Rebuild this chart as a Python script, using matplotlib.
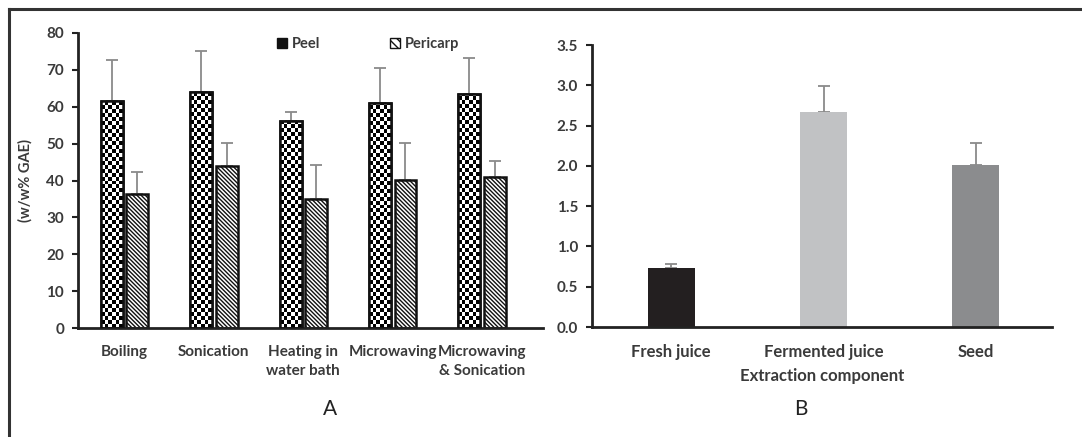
import numpy as np
import matplotlib
matplotlib.use("Agg")
import matplotlib.pyplot as plt
from matplotlib.lines import Line2D
from matplotlib.patches import Patch, Rectangle

plt.rcParams['font.family'] = ['Lato', 'DejaVu Sans']
plt.rcParams['hatch.linewidth'] = 1.0

# Panel A data
methods = ["Boiling", "Sonication", "Heating in\nwater bath", "Microwaving", "Microwaving\n& Sonication"]
peel = [61.5, 64.0, 56.0, 61.0, 63.5]
peel_err = [11.3, 11.2, 2.7, 9.5, 9.7]
pericarp = [36.3, 43.9, 35.0, 40.1, 40.9]
pericarp_err = [6.0, 6.2, 9.3, 10.0, 4.3]
yticks_a = [0, 10, 20, 30, 40, 50, 60, 70, 80]

# Panel B data
components = ["Fresh juice", "Fermented juice", "Seed"]
values_b = [0.73, 2.67, 2.01]
err_b = [0.05, 0.32, 0.28]
colors_b = ["#231f20", "#c1c2c4", "#8b8c8e"]
yticks_b = [0.0, 0.5, 1.0, 1.5, 2.0, 2.5, 3.0, 3.5]

txt = "#3a3a3a"
fs = 11
hatch_p = "\\" * 8
fig = plt.figure(figsize=(10.82, 4.37), dpi=100)

# frame lines (left and top)
fig.add_artist(Line2D([0.0085, 0.0085], [0, 0.979], color="#333333", lw=2.2, transform=fig.transFigure))
fig.add_artist(Line2D([0.0085, 1.0], [0.979, 0.979], color="#333333", lw=2.2, transform=fig.transFigure))

# ---- Panel A ----
axA = fig.add_axes([0.0721, 0.2494, 0.4297, 0.6751])
x = np.arange(len(methods))
w = 0.245
gap = 0.04
b1 = axA.bar(x - (w + gap) / 2, peel, w, color="white", edgecolor="#111111", linewidth=1.8, zorder=2)
b2 = axA.bar(x + (w + gap) / 2, pericarp, w, color="white", edgecolor="#111111", linewidth=1.8,
             hatch=hatch_p, zorder=2)
axA.errorbar(x - (w + gap) / 2, peel, yerr=[np.zeros(len(peel)), peel_err], fmt="none",
             ecolor="#8a8a8a", elinewidth=1.3, capsize=4, capthick=1.3, zorder=1)
axA.errorbar(x + (w + gap) / 2, pericarp, yerr=[np.zeros(len(pericarp)), pericarp_err], fmt="none",
             ecolor="#8a8a8a", elinewidth=1.3, capsize=4, capthick=1.3, zorder=1)
axA.set_xlim(-0.52, 4.68)
axA.set_ylim(0, 80)

# checkerboard texture inside peel bars
cell_x = 0.044
cell_y = 1.08
for bar in b1:
    x0, wid, hgt = bar.get_x(), bar.get_width(), bar.get_height()
    nc = int(round(wid / cell_x))
    nr = int(np.ceil(hgt / cell_y))
    img = (np.indices((nr, nc)).sum(axis=0) % 2).astype(float)
    im = axA.imshow(img, cmap="gray_r", extent=[x0, x0 + wid, 0, nr * cell_y], aspect="auto",
                    interpolation="nearest", vmin=0, vmax=1.0, zorder=2.5, origin="lower")
    im.set_clip_path(bar)
    axA.add_patch(Rectangle((x0, 0), wid, hgt, fill=False, edgecolor="#111111", linewidth=1.8, zorder=3))
axA.set_xlim(-0.52, 4.68)
axA.set_ylim(0, 80)

axA.set_xticks(x)
axA.set_xticklabels(methods, fontsize=fs, fontweight="bold", color=txt, linespacing=1.45)
axA.set_yticks(yticks_a)
axA.set_yticklabels([str(v) for v in yticks_a], fontsize=fs, fontweight="bold", color=txt)
axA.tick_params(axis="x", length=0, pad=12)
axA.tick_params(axis="y", length=4, width=1.5, color="#222222", pad=6)
for s in ["top", "right"]:
    axA.spines[s].set_visible(False)
for s in ["left", "bottom"]:
    axA.spines[s].set_linewidth(2)
    axA.spines[s].set_color("#222222")
axA.set_ylabel("(w/w% GAE)", fontsize=10.5, fontweight="bold", color=txt, labelpad=10)

hA = [Patch(facecolor="#111111", edgecolor="#111111"), Patch(facecolor="white", edgecolor="#111111", hatch="\\\\\\\\")]
leg = axA.legend(hA, ["Peel", "Pericarp"], loc="upper left", bbox_to_anchor=(0.4, 1.03), ncol=2, frameon=False,
                 handlelength=0.7, handleheight=0.7, columnspacing=4.8, handletextpad=0.3,
                 prop={"weight": "bold", "size": 10.5})
for t in leg.get_texts():
    t.set_color(txt)

fig.text(0.305, 0.05, "A", fontsize=15, color="#222222", ha="center")

# ---- Panel B ----
axB = fig.add_axes([0.5471, 0.2517, 0.4252, 0.6453])
xb = np.arange(len(components))
axB.bar(xb, values_b, 0.31, color=colors_b, zorder=2)
axB.errorbar(xb, values_b, yerr=[np.zeros(len(values_b)), err_b], fmt="none",
             ecolor="#8a8a8a", elinewidth=1.3, capsize=4, capthick=1.3, zorder=1)
axB.set_xlim(-0.52, 2.5)
axB.set_ylim(0, 3.5)
axB.set_xticks(xb)
axB.set_xticklabels(components, fontsize=12, fontweight="bold", color=txt)
axB.set_yticks(yticks_b)
axB.set_yticklabels([f"{v:.1f}" for v in yticks_b], fontsize=fs, fontweight="bold", color=txt)
axB.tick_params(axis="x", length=0, pad=12)
axB.tick_params(axis="y", length=4, width=1.5, color="#222222", pad=6)
for s in ["top", "right"]:
    axB.spines[s].set_visible(False)
for s in ["left", "bottom"]:
    axB.spines[s].set_linewidth(2)
    axB.spines[s].set_color("#222222")
axB.set_xlabel("Extraction component", fontsize=12, fontweight="bold", color=txt, labelpad=6)

fig.text(0.740, 0.05, "B", fontsize=15, color="#222222", ha="center")

fig.savefig("out.png", dpi=100)
